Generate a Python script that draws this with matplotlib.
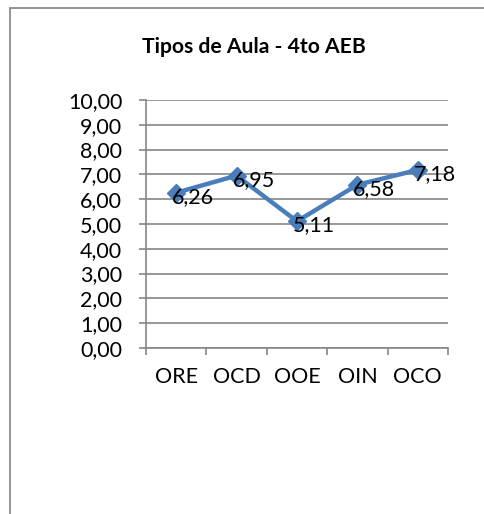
import matplotlib
matplotlib.use("Agg")
import matplotlib.pyplot as plt
from matplotlib.patches import Rectangle
import numpy as np

categorias = ["ORE", "OCD", "OOE", "OIN", "OCO"]
valores = [6.26, 6.95, 5.11, 6.58, 7.18]
y_ticks = [0, 1, 2, 3, 4, 5, 6, 7, 8, 9, 10]
titulo = "Tipos de Aula - 4to AEB"

LINE_COLOR = "#4A7EBB"
GRID_COLOR = "#868686"

plt.rcParams["font.family"] = ["Lato", "DejaVu Sans"]

fig = plt.figure(figsize=(4.85, 5.14), dpi=100)
ax = fig.add_axes([0.301, 0.323, 0.6227, 0.4825])

x = np.arange(len(categorias))
ax.plot(x, valores, color=LINE_COLOR, linewidth=3.2, marker="D",
        markersize=9.5, markerfacecolor=LINE_COLOR, markeredgecolor=LINE_COLOR,
        zorder=3)

for xi, v in zip(x, valores):
    ax.annotate(f"{v:.2f}".replace(".", ","), (xi, v), xytext=(-3, -3),
                textcoords="offset points", ha="left", va="center",
                fontsize=15.5, color="black", zorder=4)

ax.set_xlim(-0.5, len(categorias) - 0.5)
ax.set_ylim(0, 10)
ax.set_yticks(y_ticks)
ax.set_yticklabels([f"{t:.2f}".replace(".", ",") for t in y_ticks])
ax.set_xticks(x)
ax.set_xticklabels(categorias)
ax.set_xticks(np.arange(-0.5, len(categorias)), minor=True)

ax.yaxis.grid(True, color=GRID_COLOR, linewidth=1.2)
ax.set_axisbelow(True)

for side in ["top", "right"]:
    ax.spines[side].set_visible(False)
for side in ["left", "bottom"]:
    ax.spines[side].set_color(GRID_COLOR)
    ax.spines[side].set_linewidth(1.2)

ax.tick_params(axis="y", direction="out", length=5, width=1.2,
               color=GRID_COLOR, labelsize=15.5, pad=12)
ax.tick_params(axis="x", which="major", length=0, labelsize=15.5, pad=14)
ax.tick_params(axis="x", which="minor", direction="out", length=5,
               width=1.2, color=GRID_COLOR)

fig.text(0.524, 0.9086, titulo, ha="center", va="center",
         fontsize=15.2, fontweight="bold")

# marco del grafico (sale por la derecha y abajo)
frame = Rectangle((10.5 / 485, -0.1), 1.2, 1.1 - 8.5 / 514,
                  transform=fig.transFigure, fill=False,
                  edgecolor="#8c8c8c", linewidth=1.3)
fig.patches.append(frame)

fig.savefig("out.png", dpi=100, facecolor="white")
